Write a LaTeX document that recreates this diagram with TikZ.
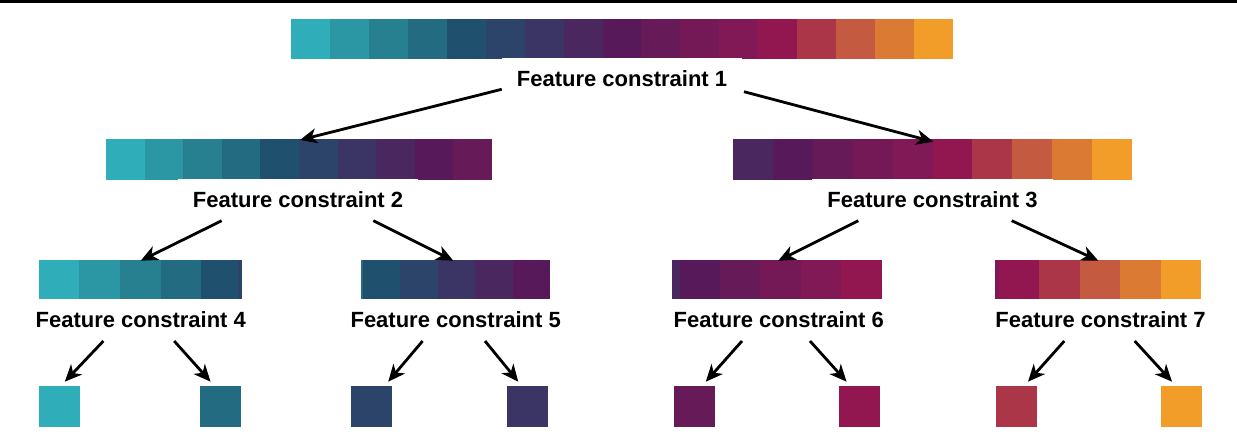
\documentclass[tikz,border=0pt]{standalone}
\usepackage{fontspec}
\setmainfont{Liberation Sans}
\usetikzlibrary{arrows.meta}
\definecolor{c1}{HTML}{2FADB9}
\definecolor{c2}{HTML}{2B97A4}
\definecolor{c3}{HTML}{26808F}
\definecolor{c4}{HTML}{236B81}
\definecolor{c5}{HTML}{1F516E}
\definecolor{c6}{HTML}{2C4469}
\definecolor{c7}{HTML}{3A3564}
\definecolor{c8}{HTML}{4A285F}
\definecolor{c9}{HTML}{58195A}
\definecolor{c10}{HTML}{661A58}
\definecolor{c11}{HTML}{741956}
\definecolor{c12}{HTML}{801955}
\definecolor{c13}{HTML}{921650}
\definecolor{c14}{HTML}{AA3648}
\definecolor{c15}{HTML}{C45A3F}
\definecolor{c16}{HTML}{DB7A32}
\definecolor{c17}{HTML}{F29D2A}
% x0, y0, cell width, height, first colour, last colour
\newcommand\cellbar[6]{%
  \foreach \i in {#5,...,#6}{%
    \pgfmathsetmacro\xa{#1+(\i-#5)*#3}%
    \fill[fill=c\i] (\xa,#2) rectangle (\xa+#3+0.3,#2+#4);
  }}
\tikzset{
  lab/.style={anchor=base, fill=white, inner xsep=15pt, inner ysep=0pt,
    text height=28pt, text depth=3pt,
    font=\bfseries\fontsize{22}{26}\selectfont},
  barbox/.style={rectangle, inner sep=0pt, draw=none},
  sq/.style={rectangle, inner sep=0pt, minimum width=41pt, minimum height=41pt, draw=none},
  arr/.style={line width=2.8pt, -{Stealth[length=17pt, width=15pt, inset=5pt]}}
}
\begin{document}
\begin{tikzpicture}[x=1pt, y=-1pt]
\useasboundingbox (0,0) rectangle (1237,441);
% top rule
\fill[black] (0,0) rectangle (1237,3);
% bars
\node[barbox, minimum width=662pt, minimum height=40pt] (b1) at (622,39.5) {};
\cellbar{291}{19.5}{38.94}{40}{1}{17}
\node[barbox, minimum width=386pt, minimum height=40.5pt] (b2) at (299,159.25) {};
\cellbar{106}{139}{38.6}{40.5}{1}{10}
\node[barbox, minimum width=399pt, minimum height=40.5pt] (b3) at (932.5,159.25) {};
\cellbar{733}{139}{39.9}{40.5}{8}{17}
\node[barbox, minimum width=203.5pt, minimum height=40pt] (b4) at (140.3,280) {};
\cellbar{38.6}{260}{40.7}{40}{1}{5}
\fill[c6] (237.5,260) rectangle (242,300);
\node[barbox, minimum width=189pt, minimum height=40pt] (b5) at (455.5,280) {};
\cellbar{363}{260}{37.4}{40}{5}{9}
\fill[c4] (361,260) rectangle (363,300);
\node[barbox, minimum width=209pt, minimum height=40pt] (b6) at (776.5,280) {};
\cellbar{679.7}{260}{40.3}{40}{9}{13}
\fill[c8] (672,260) rectangle (679.7,300);
\node[barbox, minimum width=206pt, minimum height=40pt] (b7) at (1098,280) {};
\cellbar{998.5}{260}{40.5}{40}{13}{17}
\fill[c12] (995,260) rectangle (998.5,300);
% squares
\node[sq, fill=c1]  (q1) at (59.5,406) {};
\node[sq, fill=c4]  (q2) at (220.5,406) {};
\node[sq, fill=c6]  (q3) at (371.5,406) {};
\node[sq, fill=c7]  (q4) at (527.5,406) {};
\node[sq, fill=c10] (q5) at (694,406) {};
\node[sq, fill=c13] (q6) at (859,406) {};
\node[sq, fill=c14] (q7) at (1016.3,406) {};
\node[sq, fill=c17] (q8) at (1181.5,406) {};
% labels
\node[lab] (l1) at (622,86.5) {Feature constraint 1};
\node[lab] (l2) at (298,207) {Feature constraint 2};
\node[lab] (l3) at (932.5,207) {Feature constraint 3};
\node[lab] (l4) at (140.8,327) {Feature constraint 4};
\node[lab] (l5) at (455.7,327) {Feature constraint 5};
\node[lab] (l6) at (778.8,327) {Feature constraint 6};
\node[lab] (l7) at (1100.5,327) {Feature constraint 7};
% connector end points
\coordinate (s1a) at (501.7,89.3);  \coordinate (t1a) at (300,140);
\coordinate (s1b) at (744,91.7);    \coordinate (t1b) at (933.3,141.7);
\coordinate (s2a) at (221.7,220.7); \coordinate (t2a) at (140.7,260.7);
\coordinate (s2b) at (373.3,220.7); \coordinate (t2b) at (453.3,260.7);
\coordinate (s3a) at (858.3,220.7); \coordinate (t3a) at (778.3,260.7);
\coordinate (s3b) at (1011.7,220.7);\coordinate (t3b) at (1098.3,260.7);
\coordinate (s4a) at (103.4,341);   \coordinate (t4a) at (64.8,381.7);
\coordinate (s4b) at (174.2,341);   \coordinate (t4b) at (210.6,381.7);
\coordinate (s5a) at (422.6,341);   \coordinate (t5a) at (388.2,381.7);
\coordinate (s5b) at (485,341);     \coordinate (t5b) at (518.3,381.7);
\coordinate (s6a) at (742,341);     \coordinate (t6a) at (705.8,381.7);
\coordinate (s6b) at (810,341);     \coordinate (t6b) at (846.6,381.7);
\coordinate (s7a) at (1064.3,341);  \coordinate (t7a) at (1028,381.7);
\coordinate (s7b) at (1134.7,341);  \coordinate (t7b) at (1172,381.7);
% connectors
\foreach \n in {1,...,7}{
  \draw[arr] (s\n a) -- (t\n a);
  \draw[arr] (s\n b) -- (t\n b);
}
\end{tikzpicture}
\end{document}
